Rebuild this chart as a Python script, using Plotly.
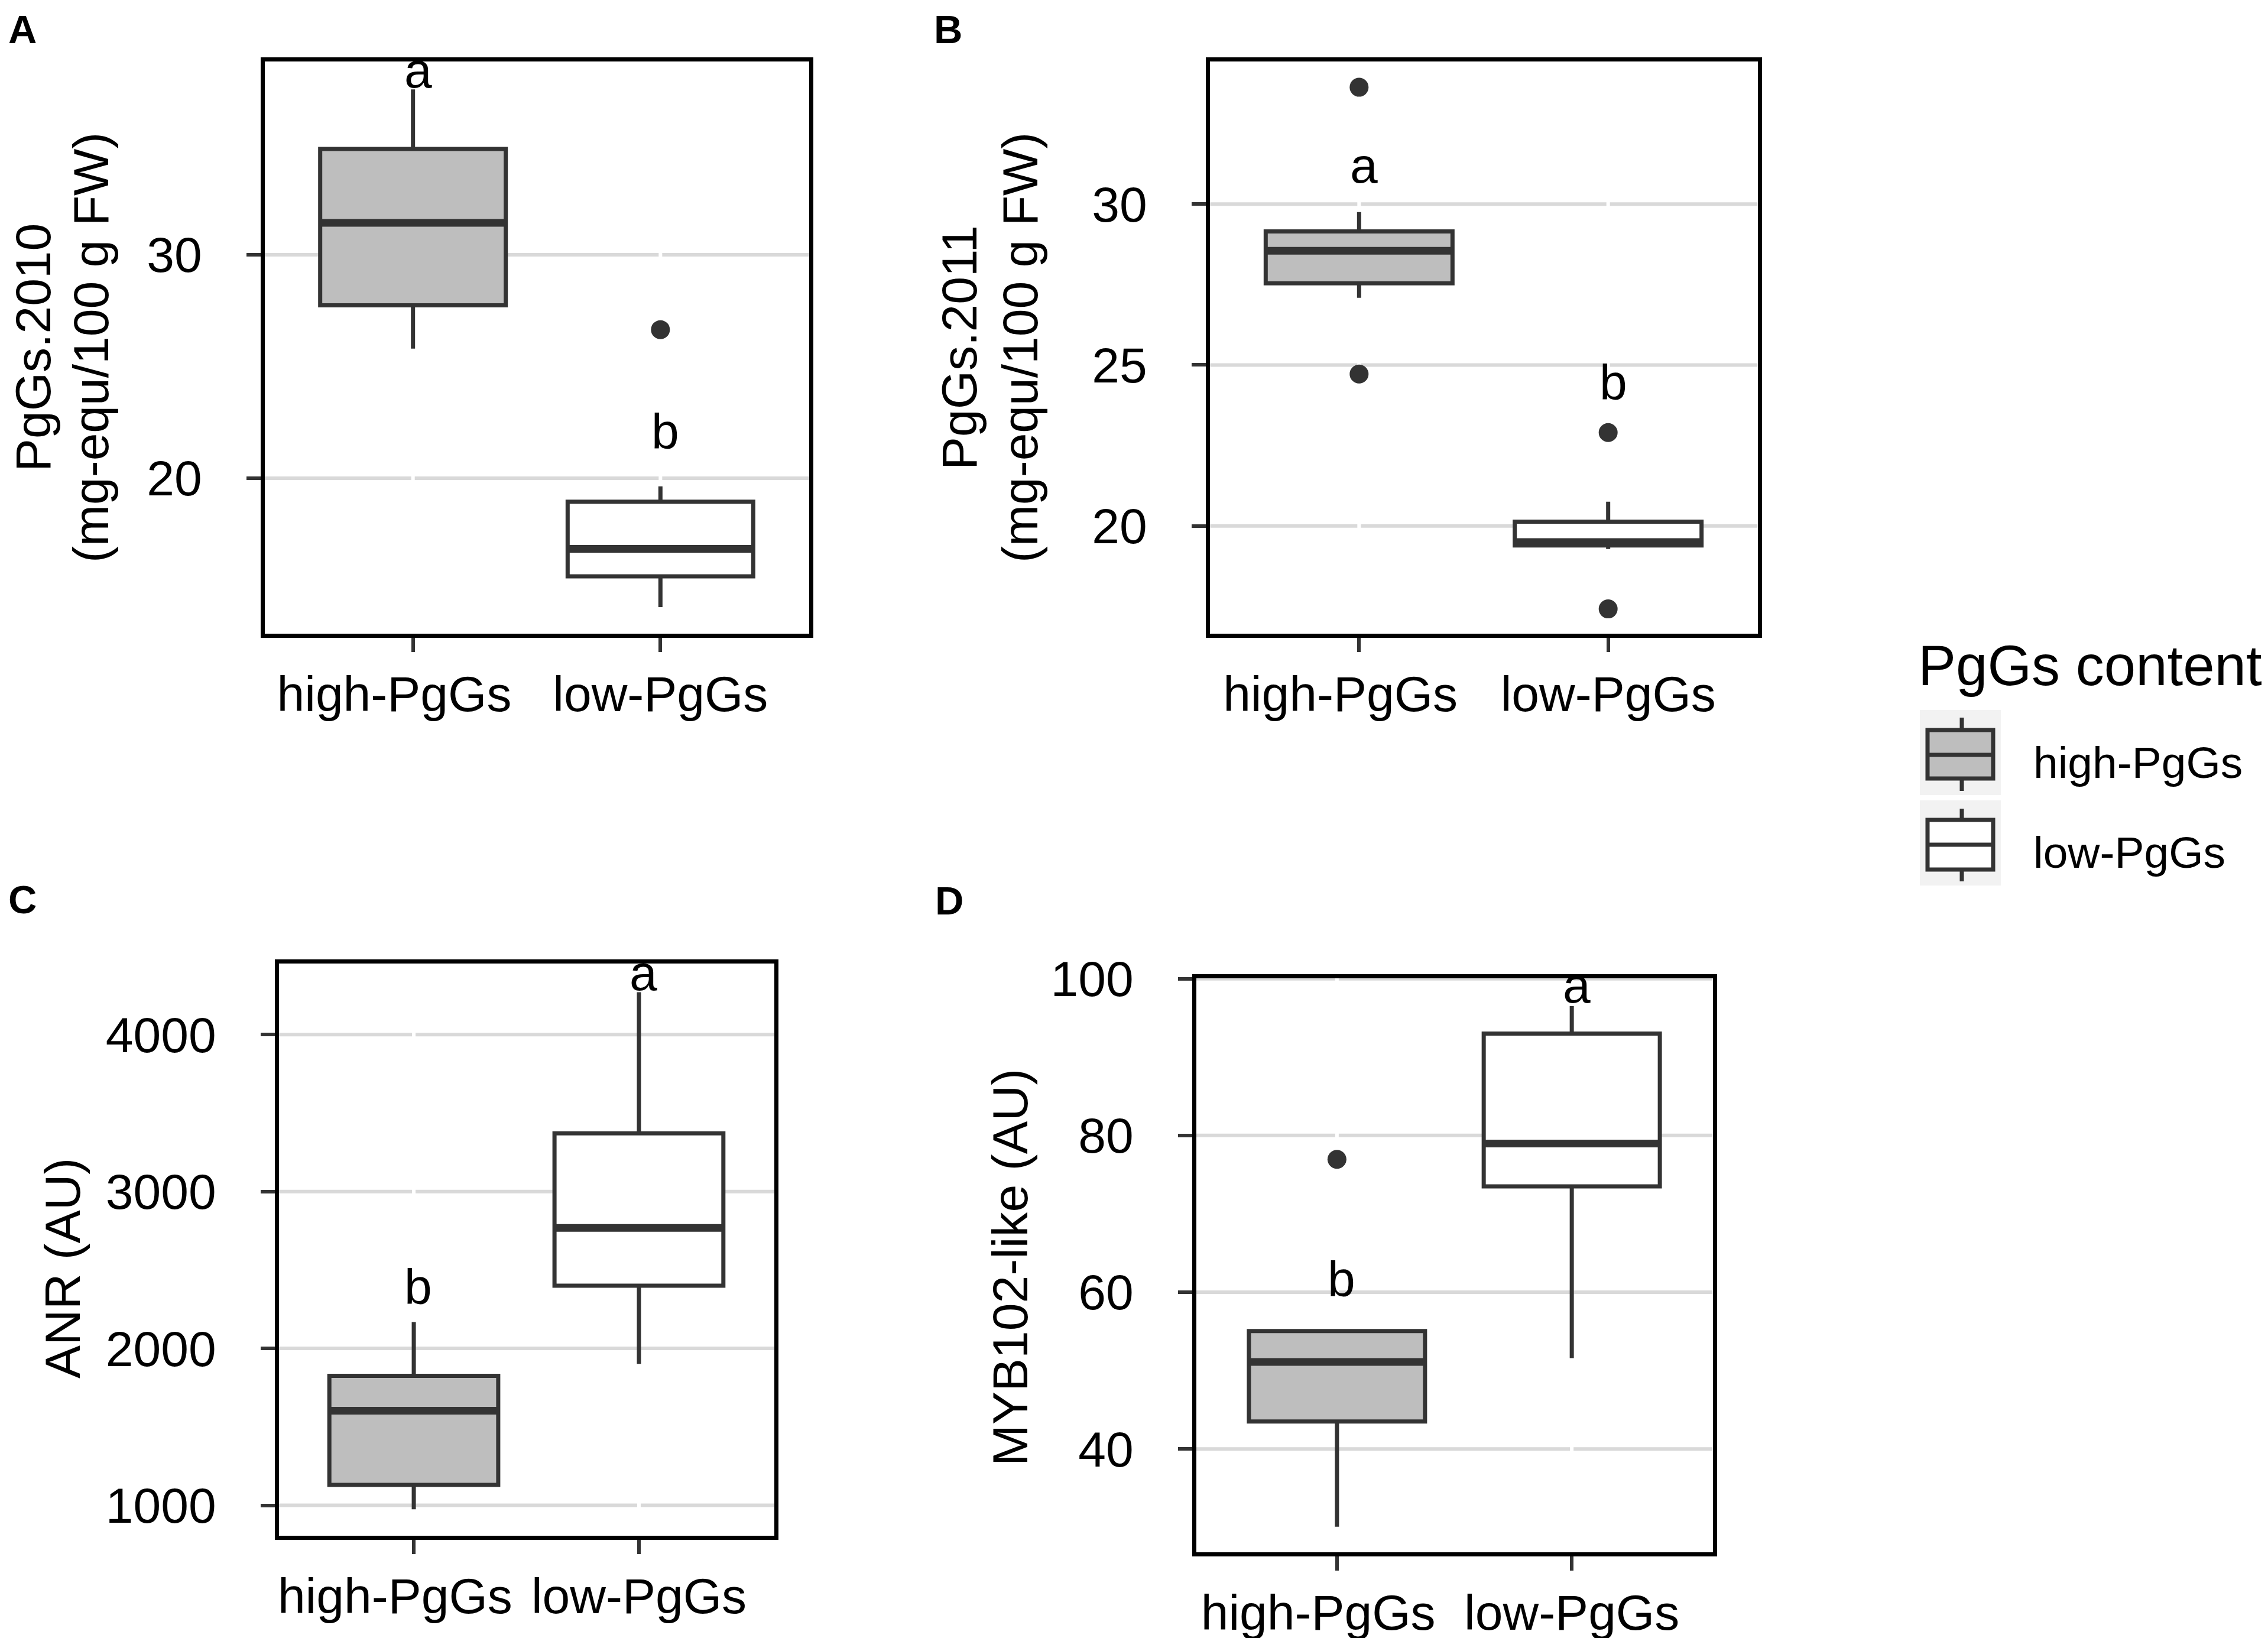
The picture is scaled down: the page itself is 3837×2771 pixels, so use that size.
import plotly.graph_objects as go

W, H = 3837, 2771
FONT = "Liberation Sans, Arial, sans-serif"
TXT = 84
DARK = "#333333"
GRID = "#d9d9d9"
HIGH_FILL = "#bebebe"
LOW_FILL = "#ffffff"

categories = ["high-PgGs", "low-PgGs"]
cat_pos = [1, 2]
fills = [HIGH_FILL, LOW_FILL]
# tick text as typeset under the axes (first label sits a little left of its tick)
tick_text = [categories[0] + "\u00a0\u00a0\u2009", categories[1]]

# ---- Panel A : PgGs.2010 ----
a_lower = [25.8, 14.24]
a_q1 = [27.74, 15.61]
a_median = [31.43, 16.84]
a_q3 = [34.73, 18.95]
a_upper = [37.4, 19.64]
a_out_x = [2]
a_out_y = [26.65]
a_letters = ["a", "b"]
a_letter_y = [37.45, 21.3]
a_ticks = [20, 30]

# ---- Panel B : PgGs.2011 ----
b_lower = [27.09, 19.28]
b_q1 = [27.54, 19.39]
b_median = [28.55, 19.50]
b_q3 = [29.15, 20.13]
b_upper = [29.75, 20.75]
b_out_x = [1, 1, 2, 2]
b_out_y = [33.63, 24.72, 22.9, 17.42]
b_letters = ["a", "b"]
b_letter_y = [30.65, 23.9]
b_ticks = [20, 25, 30]

# ---- Panel C : ANR ----
c_lower = [975, 1902]
c_q1 = [1130, 2400]
c_median = [1603, 2768]
c_q3 = [1825, 3371]
c_upper = [2168, 4270]
c_out_x = []
c_out_y = []
c_letters = ["b", "a"]
c_letter_y = [2280, 4280]
c_ticks = [1000, 2000, 3000, 4000]

# ---- Panel D : MYB102-like ----
d_lower = [30.08, 51.6]
d_q1 = [43.5, 73.5]
d_median = [51.1, 78.98]
d_q3 = [55.04, 93.0]
d_upper = [55.04, 96.5]
d_out_x = [1]
d_out_y = [76.95]
d_letters = ["b", "a"]
d_letter_y = [59.4, 96.9]
d_ticks = [40, 60, 80, 100]

BOX_W = 0.75
BOX_LINE = 7


def px_x(p):
    return p / W


def px_y(p):
    return 1 - p / H


fig = go.Figure()
annotations = []
shapes = []

panels = [
    dict(ax="", stats=(a_lower, a_q1, a_median, a_q3, a_upper), out=(a_out_x, a_out_y),
         letters=(a_letters, a_letter_y), ticks=a_ticks,
         xd=(439.5, 1360.5), yd=(95.5, 1063.5), yr=(13.06, 38.66)),
    dict(ax="2", stats=(b_lower, b_q1, b_median, b_q3, b_upper), out=(b_out_x, b_out_y),
         letters=(b_letters, b_letter_y), ticks=b_ticks,
         xd=(2038.5, 2965.5), yd=(95.5, 1063.5), yr=(16.66, 34.44)),
    dict(ax="3", stats=(c_lower, c_q1, c_median, c_q3, c_upper), out=(c_out_x, c_out_y),
         letters=(c_letters, c_letter_y), ticks=c_ticks,
         xd=(463.5, 1301.5), yd=(1621.5, 2589.5), yr=(808, 4455)),
    dict(ax="4", stats=(d_lower, d_q1, d_median, d_q3, d_upper), out=(d_out_x, d_out_y),
         letters=(d_letters, d_letter_y), ticks=d_ticks,
         xd=(2015.5, 2889.5), yd=(1647, 2617.5), yr=(26.86, 100.05)),
]

layout_axes = {}
for p in panels:
    xa, ya = "x" + p["ax"], "y" + p["ax"]
    lo, q1, med, q3, up = p["stats"]
    # horizontal grid lines at the tick values, then white vertical grid lines
    for t in p["ticks"]:
        shapes.append(dict(type="line", xref=xa + " domain", yref=ya, x0=0, x1=1,
                           y0=t, y1=t, line=dict(color=GRID, width=6), layer="below"))
    for gx in cat_pos:
        shapes.append(dict(type="line", xref=xa, yref=ya + " domain", x0=gx, x1=gx,
                           y0=0, y1=1, line=dict(color="white", width=6), layer="below"))
    for i, gx in enumerate(cat_pos):
        fig.add_trace(go.Box(
            x=[gx], q1=[q1[i]], median=[med[i]], q3=[q3[i]],
            lowerfence=[lo[i]], upperfence=[up[i]],
            width=BOX_W, fillcolor=fills[i], whiskerwidth=0,
            line=dict(color=DARK, width=BOX_LINE), boxpoints=False,
            xaxis=xa, yaxis=ya, showlegend=False, hoverinfo="skip"))
        fig.add_trace(go.Scatter(
            x=[gx - BOX_W / 2, gx + BOX_W / 2], y=[med[i], med[i]], mode="lines",
            line=dict(color=DARK, width=13), xaxis=xa, yaxis=ya,
            showlegend=False, hoverinfo="skip"))
    ox, oy = p["out"]
    if ox:
        fig.add_trace(go.Scatter(
            x=ox, y=oy, mode="markers", marker=dict(size=32, color=DARK),
            xaxis=xa, yaxis=ya, showlegend=False, hoverinfo="skip"))
    lt, ly = p["letters"]
    for i, gx in enumerate(cat_pos):
        annotations.append(dict(
            x=gx + 0.02, y=ly[i], xref=xa, yref=ya, text=lt[i], showarrow=False,
            xanchor="center", yanchor="bottom", yshift=-19,
            font=dict(family=FONT, size=TXT, color="black")))
    xkey = "xaxis" + p["ax"]
    ykey = "yaxis" + p["ax"]
    layout_axes[xkey] = dict(
        domain=[px_x(p["xd"][0]), px_x(p["xd"][1])], anchor=ya, automargin=False,
        range=[0.4, 2.6], tickmode="array", tickvals=cat_pos, ticktext=tick_text,
        tickangle=0, showgrid=False, zeroline=False, showline=True, mirror=True,
        linecolor="black", linewidth=7, ticks="outside", ticklen=24, tickwidth=6,
        tickcolor=DARK, tickfont=dict(family=FONT, size=TXT, color="black"),
        ticklabelstandoff=0)
    layout_axes[ykey] = dict(
        domain=[px_y(p["yd"][1]), px_y(p["yd"][0])], anchor=xa, automargin=False,
        range=list(p["yr"]), tickmode="array", tickvals=p["ticks"],
        showgrid=False, zeroline=False,
        showline=True, mirror=True, linecolor="black", linewidth=7,
        ticks="outside", ticklen=24, tickwidth=6, tickcolor=DARK,
        tickfont=dict(family=FONT, size=TXT, color="black"),
        ticklabelstandoff=58)

# y-axis titles
ytitles = [
    ("PgGs.2010", 48, 580),
    ("(mg-equ/100 g FW)", 146, 580),
    ("PgGs.2011", 1615, 580),
    ("(mg-equ/100 g FW)", 1718, 580),
    ("ANR (AU)", 98, 2138),
    ("MYB102-like (AU)", 1701, 2136),
]
for t, cx, cy in ytitles:
    annotations.append(dict(
        x=px_x(cx), y=px_y(cy), xref="paper", yref="paper", text=t, showarrow=False,
        textangle=-90, xanchor="center", yanchor="middle",
        font=dict(family=FONT, size=TXT, color="black")))

# panel letters
for t, lx, base in [("A", 4, 66), ("B", 1570, 66), ("C", 4, 1538), ("D", 1572, 1540)]:
    annotations.append(dict(
        x=px_x(lx), y=px_y(base + 0.212 * 67 + 1), xref="paper", yref="paper",
        text="<b>%s</b>" % t, showarrow=False, xanchor="left", yanchor="bottom",
        font=dict(family=FONT, size=67, color="black")))

# legend
legend_title = "PgGs content"
annotations.append(dict(
    x=px_x(3235), y=px_y(1152 + 0.212 * 96 + 1), xref="paper", yref="paper",
    text=legend_title, showarrow=False, xanchor="left", yanchor="bottom",
    font=dict(family=FONT, size=96, color="black")))
key_rows = [
    # (bg top, bg bottom, box top, median, box bottom, whisk top, whisk bottom, label baseline)
    (1193, 1337, 1227, 1269, 1309, 1206, 1330, 1309),
    (1346, 1490, 1379, 1421, 1463, 1360, 1483, 1461),
]
for i, (bt, bb, kt, km, kb, wt, wb, lb) in enumerate(key_rows):
    shapes.append(dict(type="rect", xref="paper", yref="paper",
                       x0=px_x(3240), x1=px_x(3377), y0=px_y(bb), y1=px_y(bt),
                       fillcolor="#f2f2f2", line=dict(width=0), layer="above"))
    shapes.append(dict(type="line", xref="paper", yref="paper",
                       x0=px_x(3311), x1=px_x(3311), y0=px_y(wb), y1=px_y(wt),
                       line=dict(color=DARK, width=BOX_LINE), layer="above"))
    shapes.append(dict(type="rect", xref="paper", yref="paper",
                       x0=px_x(3253), x1=px_x(3364), y0=px_y(kb), y1=px_y(kt),
                       fillcolor=fills[i], line=dict(color=DARK, width=BOX_LINE), layer="above"))
    shapes.append(dict(type="line", xref="paper", yref="paper",
                       x0=px_x(3253), x1=px_x(3364), y0=px_y(km), y1=px_y(km),
                       line=dict(color=DARK, width=BOX_LINE), layer="above"))
    annotations.append(dict(
        x=px_x(3430), y=px_y(lb + 0.212 * 75 + 1), xref="paper", yref="paper",
        text=categories[i], showarrow=False, xanchor="left", yanchor="bottom",
        font=dict(family=FONT, size=75, color="black")))

fig.update_layout(
    width=W, height=H, margin=dict(l=0, r=0, t=0, b=0, pad=0, autoexpand=False),
    paper_bgcolor="white", plot_bgcolor="white", showlegend=False,
    annotations=annotations, shapes=shapes, **layout_axes)

fig.write_html("out.html")
